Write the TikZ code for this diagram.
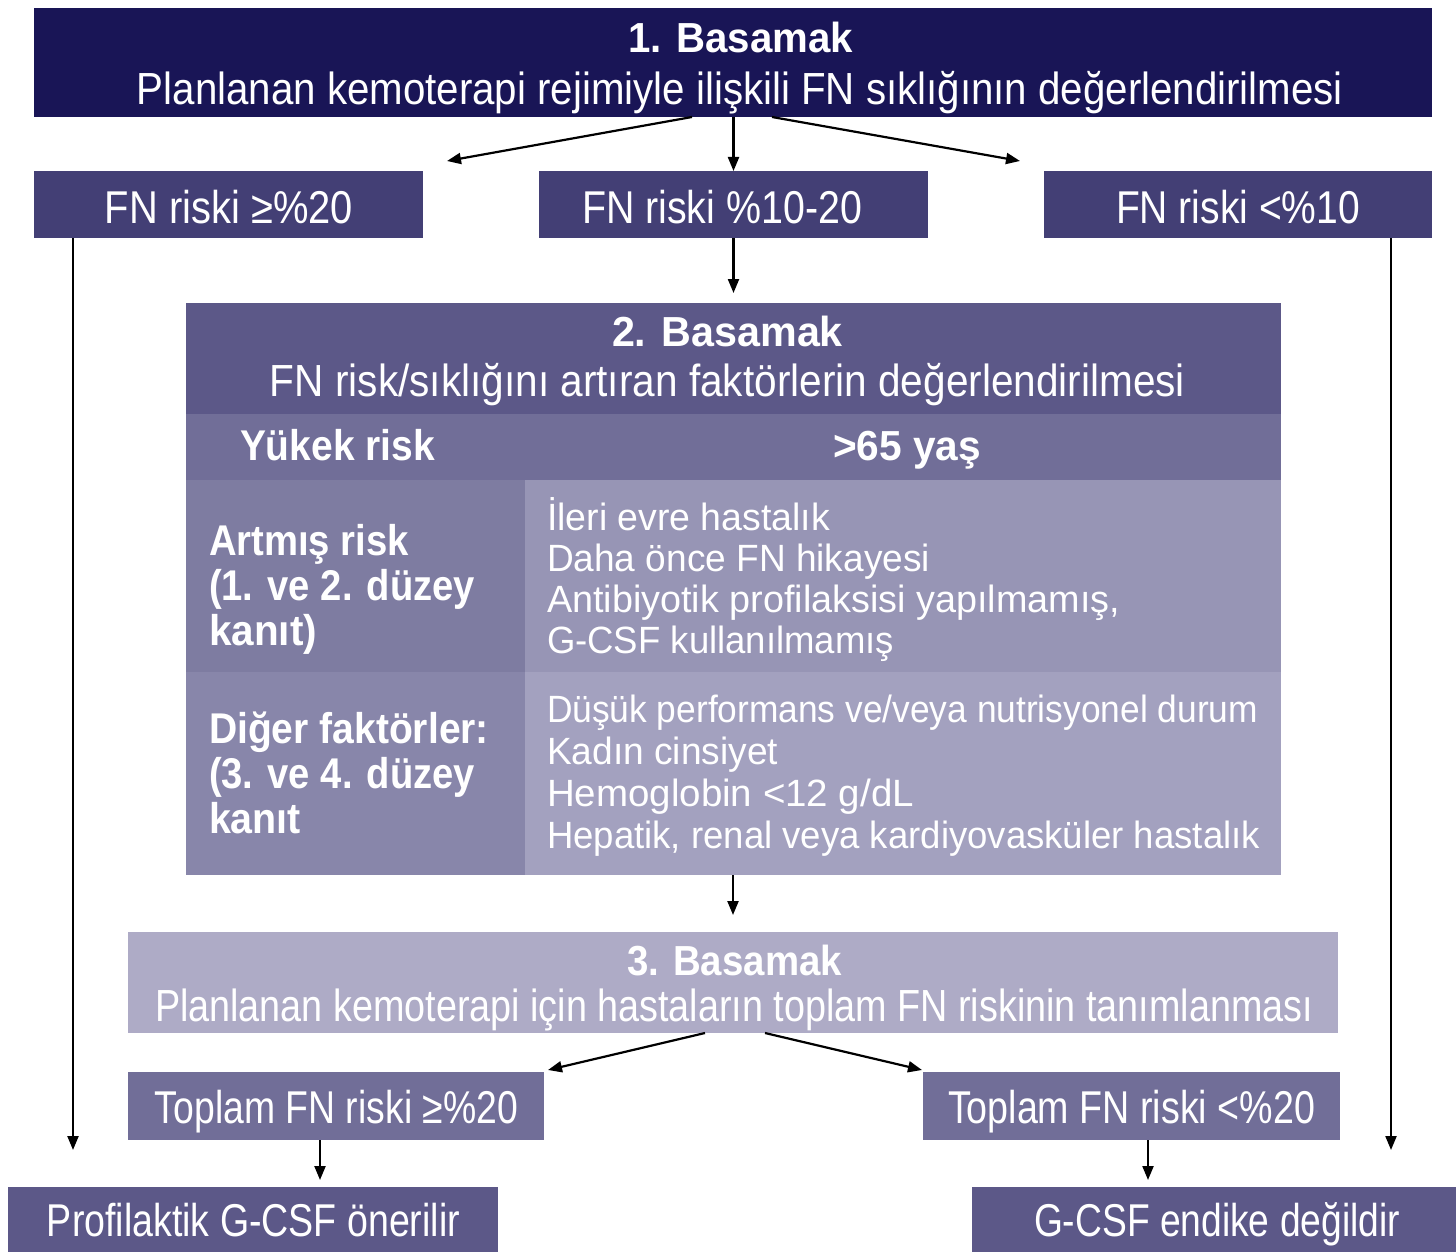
\documentclass[tikz,border=0pt]{standalone}
\usepackage{fontspec}
\setmainfont{Liberation Sans}
\usetikzlibrary{arrows.meta,calc}

\definecolor{stepone}{HTML}{191556}
\definecolor{riskbox}{HTML}{433F75}
\definecolor{steptwo}{HTML}{5C5888}
\definecolor{highrow}{HTML}{716E98}
\definecolor{incleft}{HTML}{7E7CA1}
\definecolor{incright}{HTML}{9795B5}
\definecolor{othleft}{HTML}{8886AA}
\definecolor{othright}{HTML}{A3A1BF}
\definecolor{stepthree}{HTML}{AEABC6}
\definecolor{totbox}{HTML}{716E98}
\definecolor{endbox}{HTML}{5C5888}

% condensed setting: squeeze a line horizontally to a given width (in pt)
\newcommand{\tw}[2]{\resizebox{#1pt}{\height}{#2}}

\tikzset{
  panel/.style={draw=none, rectangle, inner sep=0pt, outer sep=0pt},
  txt/.style={inner sep=0pt, outer sep=0pt, text=white},
  boxtext/.style={txt, anchor=base, font=\fontsize{46pt}{46pt}\selectfont},
  steptitle/.style={txt, anchor=base, font=\fontsize{42pt}{42pt}\selectfont\bfseries},
  stepline/.style={txt, anchor=base, font=\fontsize{45pt}{45pt}\selectfont},
  rowhead/.style={txt, anchor=base west, font=\fontsize{43pt}{43pt}\selectfont\bfseries},
  item/.style={txt, anchor=base west, font=\fontsize{38pt}{38pt}\selectfont},
  flow/.style={line width=2.2pt, -{Triangle[length=14pt,width=11pt]}},
}

\begin{document}
\begin{tikzpicture}[x=1pt,y=-1pt]
\useasboundingbox (0,0) rectangle (1456,1252);

% ---------- step 1 ----------
\node[panel, fill=stepone, minimum width=1398pt, minimum height=109pt] (s1) at (733,62.5) {};
\node[steptitle] (s1a) at (740.5,53) {\tw{225}{1. Basamak}};
\node[stepline] (s1b) at (740,105) {\tw{1206}{Planlanan kemoterapi rejimiyle ilişkili FN sıklığının değerlendirilmesi}};

% ---------- risk classes ----------
\node[panel, fill=riskbox, minimum width=389pt, minimum height=67pt] (fnL) at (228.5,204.5) {};
\node[panel, fill=riskbox, minimum width=389pt, minimum height=67pt] (fnM) at (733.5,204.5) {};
\node[panel, fill=riskbox, minimum width=388pt, minimum height=67pt] (fnR) at (1238,204.5) {};
\node[boxtext] (fnLt) at (229,223) {\tw{248}{FN riski ≥\%20}};
\node[boxtext] (fnMt) at (722,223) {\tw{280}{FN riski \%10-20}};
\node[boxtext] (fnRt) at (1238,223) {\tw{244}{FN riski <\%10}};

% ---------- step 2 ----------
\node[panel, fill=steptwo, minimum width=1095pt, minimum height=111pt] (s2h) at (733.5,358.5) {};
\node[panel, fill=highrow, minimum width=1095pt, minimum height=66pt] (hrow) at (733.5,447) {};
\node[panel, fill=incleft, minimum width=339pt, minimum height=192pt] (incL) at (355.5,576) {};
\node[panel, fill=incright, minimum width=756pt, minimum height=192pt] (incR) at (903,576) {};
\node[panel, fill=othleft, minimum width=339pt, minimum height=203pt] (othL) at (355.5,773.5) {};
\node[panel, fill=othright, minimum width=756pt, minimum height=203pt] (othR) at (903,773.5) {};

\node[steptitle] (s2a) at (727.5,346) {\tw{231}{2. Basamak}};
\node[stepline] (s2b) at (727.5,396) {\tw{915}{FN risk/sıklığını artıran faktörlerin değerlendirilmesi}};

\node[rowhead] (hra) at (240,460) {\tw{195}{Yükek risk}};
\node[steptitle] (hrb) at (907,460) {\tw{148}{>65 yaş}};

\node[rowhead] (ia1) at (209,555) {\tw{200}{Artmış risk}};
\node[rowhead] (ia2) at (209,600) {\tw{266}{(1. ve 2. düzey}};
\node[rowhead] (ia3) at (209,645) {\tw{108}{kanıt)}};
\node[item] (ib1) at (547,530) {\tw{283}{İleri evre hastalık}};
\node[item] (ib2) at (547,571) {\tw{383}{Daha önce FN hikayesi}};
\node[item] (ib3) at (547,612) {\tw{573}{Antibiyotik profilaksisi yapılmamış,}};
\node[item] (ib4) at (547,653) {\tw{347}{G-CSF kullanılmamış}};

\node[rowhead] (oa1) at (209,743) {\tw{280}{Diğer faktörler:}};
\node[rowhead] (oa2) at (209,788) {\tw{266}{(3. ve 4. düzey}};
\node[rowhead] (oa3) at (209,833) {\tw{92}{kanıt}};
\node[item] (ob1) at (547,722) {\tw{711}{Düşük performans ve/veya nutrisyonel durum}};
\node[item] (ob2) at (547,764) {\tw{231}{Kadın cinsiyet}};
\node[item] (ob3) at (547,806) {\tw{367}{Hemoglobin <12 g/dL}};
\node[item] (ob4) at (547,848) {\tw{713}{Hepatik, renal veya kardiyovasküler hastalık}};

% ---------- step 3 ----------
\node[panel, fill=stepthree, minimum width=1210pt, minimum height=101pt] (s3) at (733,982.5) {};
\node[steptitle] (s3a) at (734.5,975) {\tw{215}{3. Basamak}};
\node[stepline] (s3b) at (734,1021) {\tw{1158}{Planlanan kemoterapi için hastaların toplam FN riskinin tanımlanması}};

\node[panel, fill=totbox, minimum width=416pt, minimum height=68pt] (totL) at (336,1106) {};
\node[panel, fill=totbox, minimum width=417pt, minimum height=68pt] (totR) at (1131.5,1106) {};
\node[boxtext] (totLt) at (336.5,1123) {\tw{363}{Toplam FN riski ≥\%20}};
\node[boxtext] (totRt) at (1131.5,1123) {\tw{367}{Toplam FN riski <\%20}};

% ---------- outcomes ----------
\node[panel, fill=endbox, minimum width=490pt, minimum height=66pt] (prof) at (253,1220) {};
\node[panel, fill=endbox, minimum width=484pt, minimum height=66pt] (nogcsf) at (1214,1220) {};
\node[boxtext] (proft) at (253.5,1236) {\tw{413}{Profilaktik G-CSF önerilir}};
\node[boxtext] (nogcsft) at (1217,1236) {\tw{366}{G-CSF endike değildir}};

% ---------- connectors ----------
\draw[flow] ([xshift=-41pt]s1.south) -- ([xshift=24pt,yshift=10pt]fnL.north east);
\draw[flow] (fnM.north |- s1.south) -- (fnM.north);
\draw[flow] ([xshift=39pt]s1.south) -- ([xshift=-24pt,yshift=10pt]fnR.north west);
\draw[flow, shorten >=10pt] (fnM.south) -- (s2h.north);

\coordinate (lft) at ([xshift=39pt]fnL.south west);
\draw[flow, shorten >=37pt] (lft) -- (lft |- prof.north);
\coordinate (rgt) at ([xshift=-41pt]fnR.south east);
\draw[flow, shorten >=37pt] (rgt) -- (rgt |- nogcsf.north);

\draw[flow, shorten >=17pt] (s3.north |- othR.south) -- (s3.north);
\draw[flow] ([xshift=-28pt]s3.south) -- ([xshift=4pt,yshift=2pt]totL.north east);
\draw[flow] ([xshift=32pt]s3.south) -- ([xshift=-1pt,yshift=2pt]totR.north west);

\coordinate (tl) at ([xshift=-16pt]totL.south);
\draw[flow, shorten >=7pt] (tl) -- (tl |- prof.north);
\coordinate (tr) at ([xshift=16.5pt]totR.south);
\draw[flow, shorten >=7pt] (tr) -- (tr |- nogcsf.north);
\end{tikzpicture}
\end{document}
